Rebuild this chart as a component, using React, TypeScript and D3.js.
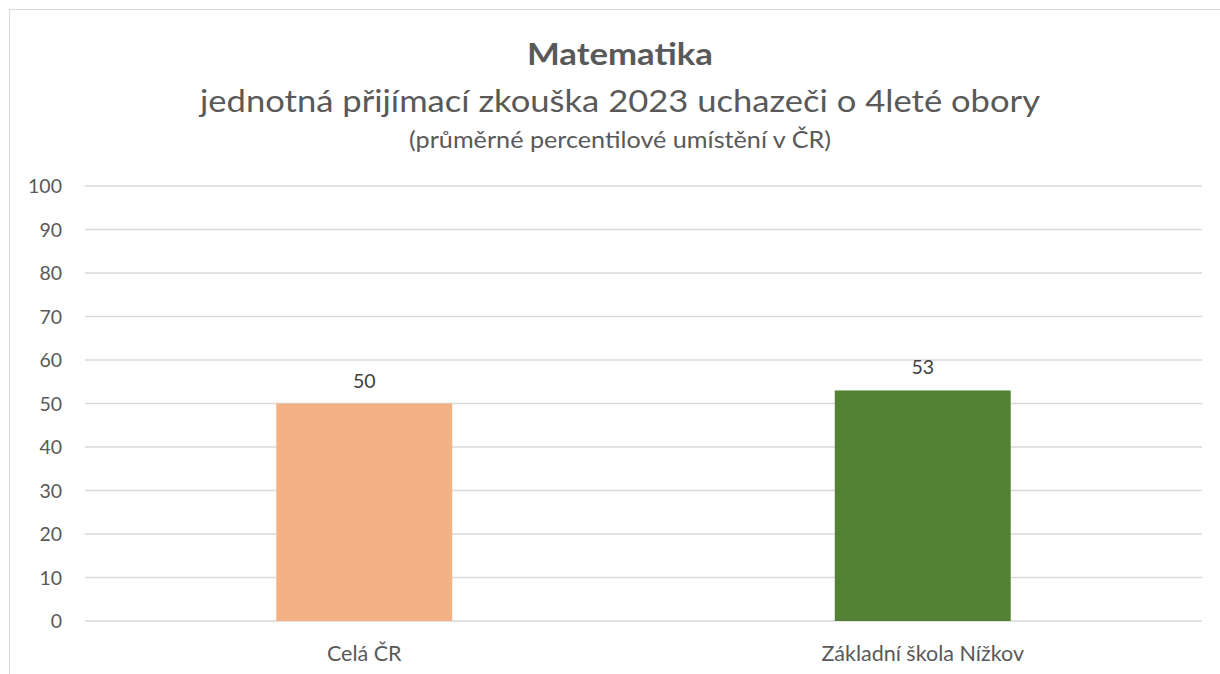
import * as React from 'react';
import * as d3 from 'd3';

const categories = ['Celá ČR', 'Základní škola Nížkov'];
const values = [50, 53];
const barColors = ['#F4B183', '#548235'];
const yTicks = [0, 10, 20, 30, 40, 50, 60, 70, 80, 90, 100];

const title = 'Matematika';
const subtitle = 'jednotná přijímací zkouška 2023 uchazeči o 4leté obory';
const note = '(průměrné percentilové umístění v ČR)';

const width = 1220;
const height = 674;
const font = 'Lato, "Open Sans", sans-serif';

export default function App() {
  const ref = React.useRef<SVGSVGElement>(null);

  React.useEffect(() => {
    const svg = d3.select(ref.current);
    svg.selectAll('*').remove();

    const x = d3.scaleBand<string>()
      .domain(categories)
      .range([85, 1202])
      .paddingInner(0.685)
      .paddingOuter(0.3425);

    const y = d3.scaleLinear()
      .domain([0, 100])
      .range([621, 186]);

    // chart frame
    svg.append('rect')
      .attr('x', 9.5)
      .attr('y', 9.5)
      .attr('width', 1230)
      .attr('height', 700)
      .attr('fill', '#fff')
      .attr('stroke', '#d9d9d9')
      .attr('stroke-width', 1);

    // titles
    svg.append('text')
      .attr('x', 620)
      .attr('y', 65)
      .attr('text-anchor', 'middle')
      .attr('font-family', font)
      .attr('font-weight', 700)
      .attr('font-size', 30)
      .attr('fill', '#595959')
      .attr('textLength', 186)
      .attr('lengthAdjust', 'spacingAndGlyphs')
      .text(title);

    svg.append('text')
      .attr('x', 620)
      .attr('y', 112)
      .attr('text-anchor', 'middle')
      .attr('font-family', font)
      .attr('font-size', 31)
      .attr('fill', '#595959')
      .attr('textLength', 840)
      .attr('lengthAdjust', 'spacingAndGlyphs')
      .text(subtitle);

    svg.append('text')
      .attr('x', 620)
      .attr('y', 148)
      .attr('text-anchor', 'middle')
      .attr('font-family', font)
      .attr('font-size', 23.5)
      .attr('fill', '#595959')
      .attr('textLength', 422)
      .attr('lengthAdjust', 'spacingAndGlyphs')
      .text(note);

    // gridlines
    svg.append('g')
      .selectAll('line')
      .data(yTicks)
      .enter().append('line')
      .attr('x1', 85)
      .attr('x2', 1202)
      .attr('y1', d => y(d))
      .attr('y2', d => y(d))
      .attr('stroke', '#d9d9d9')
      .attr('stroke-width', 1.3);

    // y tick labels
    svg.append('g')
      .selectAll('text')
      .data(yTicks)
      .enter().append('text')
      .attr('x', 62)
      .attr('y', d => y(d))
      .attr('dy', '0.36em')
      .attr('text-anchor', 'end')
      .attr('font-family', font)
      .attr('font-size', 19.5)
      .attr('fill', '#595959')
      .text(d => d);

    // value labels
    svg.append('g')
      .selectAll('text')
      .data(values)
      .enter().append('text')
      .attr('x', (d, i) => (x(categories[i]) as number) + x.bandwidth() / 2)
      .attr('y', d => y(d) - 16)
      .attr('text-anchor', 'middle')
      .attr('font-family', font)
      .attr('font-size', 19.5)
      .attr('fill', '#404040')
      .text(d => d);

    // bars
    svg.append('g')
      .selectAll('rect')
      .data(values)
      .enter().append('rect')
      .attr('x', (d, i) => x(categories[i]) as number)
      .attr('width', x.bandwidth())
      .attr('y', d => y(d))
      .attr('height', d => y(0) - y(d))
      .attr('fill', (d, i) => barColors[i]);

    // category labels
    svg.append('g')
      .selectAll('text')
      .data(categories)
      .enter().append('text')
      .attr('x', d => (x(d) as number) + x.bandwidth() / 2)
      .attr('y', 661)
      .attr('text-anchor', 'middle')
      .attr('font-family', font)
      .attr('font-size', 21.5)
      .attr('fill', '#595959')
      .text(d => d);
  }, []);

  return (
    <svg
      ref={ref}
      width={width}
      height={height}
      style={{ position: 'absolute', left: 0, top: 0, display: 'block' }}
    />
  );
}
